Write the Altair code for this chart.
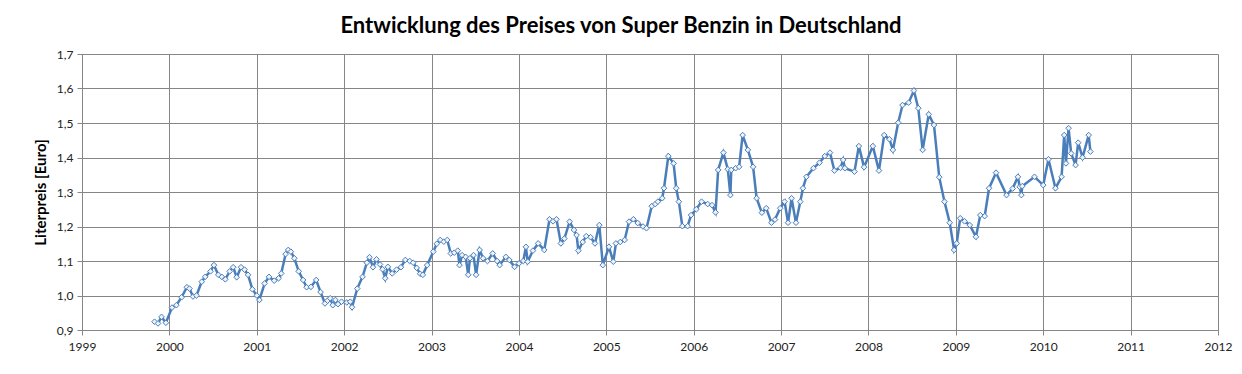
import altair as alt
import pandas as pd

# decimal year and price (Euro per litre)
years = [
    1999.83, 1999.87, 1999.91, 1999.96,
    2000.03, 2000.08, 2000.14, 2000.20, 2000.23, 2000.27, 2000.31,
    2000.37, 2000.41, 2000.47, 2000.51, 2000.56, 2000.60, 2000.64, 2000.69, 2000.73,
    2000.77, 2000.82, 2000.86, 2000.90, 2000.95, 2001.00, 2001.03,
    2001.09, 2001.14, 2001.20, 2001.25, 2001.28, 2001.33, 2001.36, 2001.39, 2001.43,
    2001.48, 2001.53, 2001.57, 2001.62, 2001.68, 2001.73, 2001.78, 2001.81, 2001.84,
    2001.87, 2001.90, 2001.93, 2001.97, 2002.03, 2002.07, 2002.09,
    2002.15, 2002.21, 2002.26, 2002.29, 2002.33, 2002.37, 2002.41, 2002.44, 2002.47,
    2002.50, 2002.55, 2002.60, 2002.65, 2002.70, 2002.75, 2002.79, 2002.83, 2002.87,
    2002.90, 2002.95,
    2003.02, 2003.06, 2003.10, 2003.14, 2003.18, 2003.22, 2003.26, 2003.30, 2003.32,
    2003.35, 2003.39, 2003.42, 2003.44, 2003.48, 2003.51, 2003.55, 2003.59, 2003.64,
    2003.70, 2003.75, 2003.78, 2003.85, 2003.89, 2003.95, 2004.00, 2004.05, 2004.08,
    2004.10,
    2004.16, 2004.22, 2004.29, 2004.35, 2004.39, 2004.43, 2004.48, 2004.52, 2004.58,
    2004.63, 2004.66, 2004.68, 2004.73, 2004.77, 2004.82, 2004.87, 2004.92, 2004.96,
    2005.03, 2005.08, 2005.11, 2005.16, 2005.21, 2005.26, 2005.31, 2005.36, 2005.42,
    2005.46, 2005.52, 2005.56, 2005.59, 2005.64, 2005.66, 2005.71, 2005.77, 2005.80,
    2005.83, 2005.87, 2005.93, 2005.97,
    2006.03, 2006.09, 2006.16, 2006.21, 2006.25, 2006.28, 2006.34, 2006.39, 2006.42,
    2006.43, 2006.48, 2006.52, 2006.56, 2006.62, 2006.68, 2006.72, 2006.78, 2006.83,
    2006.89, 2006.93, 2006.99,
    2007.04, 2007.08, 2007.12, 2007.17, 2007.22, 2007.25, 2007.29, 2007.37, 2007.44,
    2007.50, 2007.56, 2007.61, 2007.68, 2007.71, 2007.73, 2007.84, 2007.89, 2007.95,
    2008.05, 2008.12, 2008.18, 2008.24, 2008.28, 2008.34, 2008.39, 2008.46, 2008.52,
    2008.57, 2008.62, 2008.69, 2008.75, 2008.81, 2008.87, 2008.93, 2008.98, 2009.01,
    2009.05, 2009.10, 2009.16, 2009.23, 2009.28, 2009.33, 2009.38, 2009.46, 2009.58,
    2009.65, 2009.71, 2009.73, 2009.75, 2009.76, 2009.90, 2010.00, 2010.06, 2010.14,
    2010.21, 2010.24, 2010.26, 2010.29, 2010.32, 2010.37, 2010.40, 2010.45, 2010.52,
    2010.54,
]
prices = [
    0.924, 0.919, 0.938, 0.921,
    0.965, 0.972, 0.995, 1.024, 1.020, 0.997, 1.000,
    1.040, 1.054, 1.070, 1.088, 1.060, 1.054, 1.047, 1.070, 1.082,
    1.053, 1.082, 1.075, 1.060, 1.018, 1.000, 0.987,
    1.035, 1.054, 1.043, 1.050, 1.064, 1.120, 1.132, 1.127, 1.108,
    1.070, 1.045, 1.024, 1.025, 1.045, 1.010, 0.977, 0.985, 0.992,
    0.972, 0.987, 0.975, 0.982, 0.980, 0.982, 0.966,
    1.020, 1.054, 1.095, 1.111, 1.082, 1.105, 1.090, 1.076, 1.050,
    1.083, 1.064, 1.075, 1.082, 1.103, 1.100, 1.095, 1.080, 1.063,
    1.060, 1.088,
    1.127, 1.150, 1.161, 1.156, 1.161, 1.122, 1.124, 1.130, 1.088,
    1.117, 1.112, 1.060, 1.108, 1.117, 1.060, 1.132, 1.108, 1.100,
    1.122, 1.100, 1.088, 1.112, 1.103, 1.083, 1.093, 1.100, 1.141,
    1.098,
    1.130, 1.151, 1.132, 1.221, 1.215, 1.221, 1.151, 1.165, 1.214,
    1.190, 1.175, 1.130, 1.155, 1.172, 1.169, 1.151, 1.204, 1.088,
    1.141, 1.098, 1.151, 1.155, 1.161, 1.214, 1.221, 1.210, 1.200,
    1.195, 1.259, 1.265, 1.272, 1.282, 1.311, 1.404, 1.383, 1.311,
    1.272, 1.201, 1.201, 1.233,
    1.250, 1.272, 1.265, 1.262, 1.241, 1.364, 1.414, 1.366, 1.291,
    1.364, 1.369, 1.373, 1.465, 1.422, 1.373, 1.282, 1.240, 1.253,
    1.211, 1.220, 1.253,
    1.272, 1.211, 1.282, 1.211, 1.272, 1.311, 1.344, 1.369, 1.385,
    1.404, 1.414, 1.362, 1.370, 1.393, 1.369, 1.359, 1.433, 1.372,
    1.433, 1.362, 1.465, 1.453, 1.422, 1.501, 1.552, 1.559, 1.594,
    1.543, 1.422, 1.525, 1.494, 1.343, 1.272, 1.211, 1.132, 1.151,
    1.224, 1.215, 1.204, 1.170, 1.233, 1.230, 1.311, 1.356, 1.291,
    1.310, 1.344, 1.315, 1.291, 1.317, 1.344, 1.320, 1.395, 1.311,
    1.344, 1.465, 1.383, 1.485, 1.412, 1.378, 1.443, 1.400, 1.465,
    1.417,
]

year_ticks = list(range(1999, 2013))
price_ticks = [0.9, 1.0, 1.1, 1.2, 1.3, 1.4, 1.5, 1.6, 1.7]

df = pd.DataFrame({"t": years, "p": prices})

FONT = "Lato"
LINE = "#4A7EBB"
GRID = "#868686"

x = alt.X(
    "t:Q",
    scale=alt.Scale(domain=[1999, 2012], nice=False, zero=False),
    axis=alt.Axis(
        values=year_ticks, format="d", title=None, grid=True,
        gridColor=GRID, domainColor=GRID, tickColor=GRID, tickSize=5,
        labelFont=FONT, labelFontSize=12, labelColor="#222", labelPadding=6,
        labelFlush=False,
    ),
)
y = alt.Y(
    "p:Q",
    scale=alt.Scale(domain=[0.9, 1.7], nice=False, zero=False),
    axis=alt.Axis(
        values=price_ticks, title="Literpreis [Euro]", grid=True,
        labelExpr="replace(format(datum.value, '.1f'), '.', ',')",
        gridColor=GRID, domainColor=GRID, tickColor=GRID, tickSize=5,
        labelFont=FONT, labelFontSize=12, labelColor="#222", labelPadding=4,
        titleFont=FONT, titleFontSize=15, titleFontWeight="bold", titleColor="#000",
        titlePadding=8,
    ),
)

base = alt.Chart(df).encode(x=x, y=y)
line = base.mark_line(color=LINE, strokeWidth=2.5)
pts = base.mark_point(shape="diamond", size=32, filled=True, fill="#eef3fa",
                      stroke=LINE, strokeWidth=1, opacity=1)

chart = (
    alt.layer(line, pts)
    .properties(
        width=1136, height=276,
        title=alt.TitleParams(
            "Entwicklung des Preises von Super Benzin in Deutschland",
            font=FONT, fontSize=22, fontWeight="bold", color="#000",
            anchor="middle", dx=-29, offset=10,
        ),
        autosize=alt.AutoSizeParams(type="none"),
        padding={"left": 74, "top": 46, "right": 16, "bottom": 36},
    )
    .configure_view(stroke=None)
    .configure(background="white")
)

chart.save("out.html", embed_options={"renderer": "svg", "actions": False})
